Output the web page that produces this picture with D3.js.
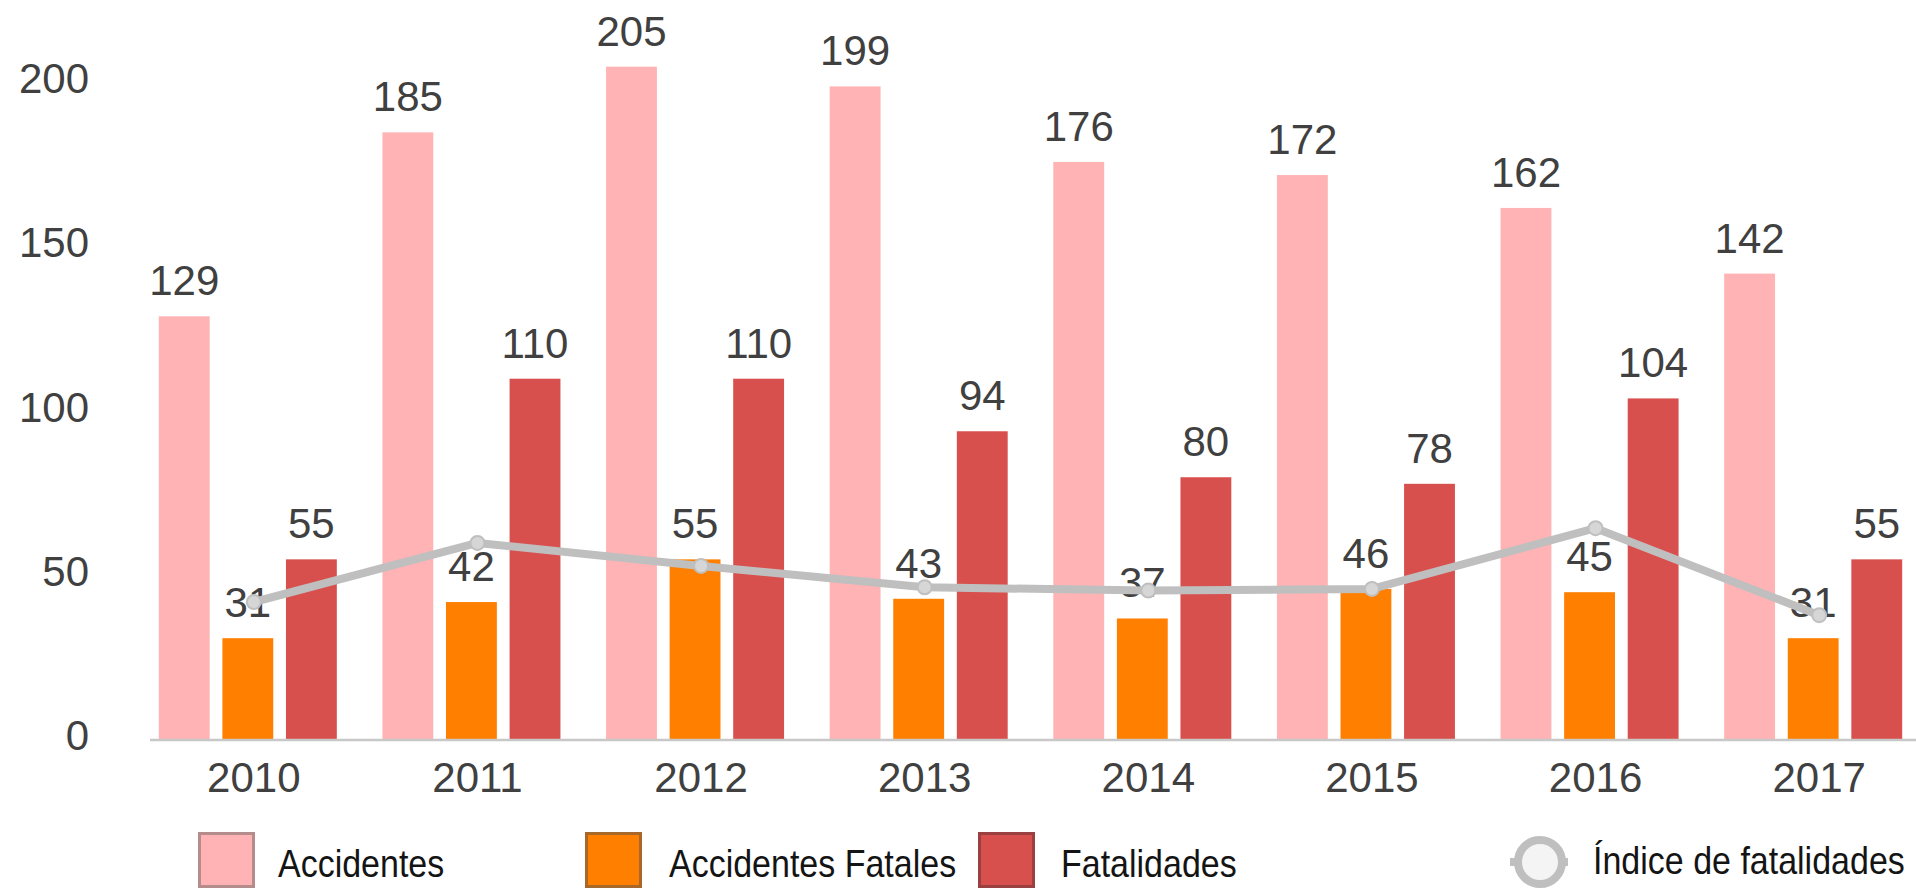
<!DOCTYPE html>
<meta charset="utf-8">
<style>
body { margin: 0; background: #fff; }
text { font-family: "Liberation Sans", Arial, sans-serif; }
</style>
<svg width="1916" height="891"></svg>
<script src="https://d3js.org/d3.v7.min.js"></script>
<script>

// data
var years = ["2010", "2011", "2012", "2013", "2014", "2015", "2016", "2017"];
var accidentes = [129, 185, 205, 199, 176, 172, 162, 142];
var accidentesFatales = [31, 42, 55, 43, 37, 46, 45, 31];
var fatalidades = [55, 110, 110, 94, 80, 78, 104, 55];
// index line, read in units of the bar axis (no second axis shown)
var indiceFatalidades = [42, 60, 53, 46.5, 45.5, 46, 64.5, 38];

var seriesNames = ["Accidentes", "Accidentes Fatales", "Fatalidades"];
var seriesValues = [accidentes, accidentesFatales, fatalidades];
var seriesColours = ["#ffb3b4", "#ff8000", "#d8504d"];
var legendBorders = ["#b58c8c", "#a8682a", "#9a4040"];
var lineName = "Índice de fatalidades";
var yTicks = [0, 50, 100, 150, 200];

var svg = d3.select("svg");
var label_colour = "#404040";
var line_colour = "#bfbfbf";

var x = d3.scaleBand()
    .domain(years)
    .range([136, 1925])
    .paddingInner(0.204)
    .paddingOuter(0.102);

var xInner = d3.scaleBand()
    .domain(seriesNames)
    .range([0, x.bandwidth()])
    .paddingInner(0.2);

var y = d3.scaleLinear()
    .domain([0, 225])
    .range([740, 1]);

// y axis labels, no line
var yAxis = svg.append("g")
    .attr("transform", "translate(89,0)")
    .call(d3.axisLeft(y).tickValues(yTicks).tickSize(0).tickPadding(0));
yAxis.select(".domain").remove();
yAxis.selectAll("text")
    .attr("y", -4)
    .style("font-size", "42px")
    .style("font-family", "'Liberation Sans', Arial, sans-serif")
    .attr("fill", label_colour);

// bars
seriesNames.forEach(function(name, s) {
  svg.append("g")
    .selectAll("rect")
    .data(seriesValues[s])
    .enter().append("rect")
    .attr("x", function(d, i) { return x(years[i]) + xInner(name); })
    .attr("y", function(d) { return y(d); })
    .attr("width", xInner.bandwidth())
    .attr("height", function(d) { return y(0) - y(d); })
    .attr("fill", seriesColours[s]);
});

// baseline
svg.append("line")
    .attr("x1", 150).attr("x2", 1916)
    .attr("y1", y(0)).attr("y2", y(0))
    .attr("stroke", "#c8c8c8")
    .attr("stroke-width", 2.5);

// year labels
var xAxis = svg.append("g")
    .attr("transform", "translate(6," + y(0) + ")")
    .call(d3.axisBottom(x).tickSize(0).tickPadding(22));
xAxis.select(".domain").remove();
xAxis.selectAll("text")
    .style("font-size", "42px")
    .style("font-family", "'Liberation Sans', Arial, sans-serif")
    .attr("fill", label_colour);

// value labels
seriesNames.forEach(function(name, s) {
  svg.append("g")
    .selectAll("text")
    .data(seriesValues[s])
    .enter().append("text")
    .attr("x", function(d, i) { return x(years[i]) + xInner(name) + xInner.bandwidth() / 2; })
    .attr("y", function(d) { return y(d) - 21; })
    .attr("text-anchor", "middle")
    .style("font-size", "42px")
    .attr("fill", label_colour)
    .text(function(d) { return d; });
});

// index line on top
var lineX = function(d, i) { return x(years[i]) + x.bandwidth() / 2 + 6; };
var line = d3.line()
    .x(lineX)
    .y(function(d) { return y(d); });

svg.append("path")
    .datum(indiceFatalidades)
    .attr("d", line)
    .attr("fill", "none")
    .attr("stroke", line_colour)
    .attr("stroke-width", 8)
    .attr("stroke-linejoin", "round");

svg.append("g")
    .selectAll("circle")
    .data(indiceFatalidades)
    .enter().append("circle")
    .attr("cx", lineX)
    .attr("cy", function(d) { return y(d); })
    .attr("r", 7)
    .attr("fill", "#d6d6d6")
    .attr("stroke", line_colour)
    .attr("stroke-width", 2);

// legend
var legendSquareX = [198, 585, 978];
var legendTextX = [278, 669, 1061];
seriesNames.forEach(function(name, s) {
  svg.append("rect")
    .attr("x", legendSquareX[s] + 1.5)
    .attr("y", 833.5)
    .attr("width", 54)
    .attr("height", 53)
    .attr("fill", seriesColours[s])
    .attr("stroke", legendBorders[s])
    .attr("stroke-width", 3);
  svg.append("text")
    .attr("transform", "translate(" + legendTextX[s] + ",877) scale(1,1.15)")
    .style("font-size", "34px")
    .attr("fill", "#141414")
    .text(name);
});

svg.append("line")
    .attr("x1", 1510).attr("x2", 1568)
    .attr("y1", 862).attr("y2", 862)
    .attr("stroke", line_colour)
    .attr("stroke-width", 8);
svg.append("circle")
    .attr("cx", 1540).attr("cy", 862)
    .attr("r", 22)
    .attr("fill", "#f4f4f4")
    .attr("stroke", line_colour)
    .attr("stroke-width", 8);
svg.append("text")
    .attr("transform", "translate(1593,874) scale(1,1.15)")
    .style("font-size", "34px")
    .attr("fill", "#141414")
    .text(lineName);

</script>
